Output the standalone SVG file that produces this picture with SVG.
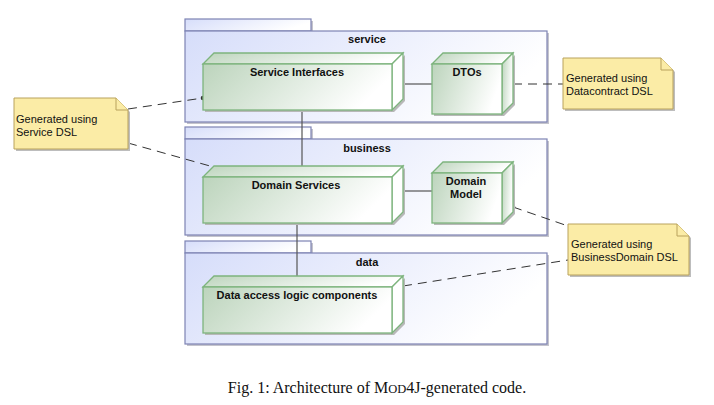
<svg xmlns="http://www.w3.org/2000/svg" width="714" height="405" viewBox="0 0 714 405">
<defs>
<linearGradient id="pkg" x1="0" y1="0" x2="1" y2="0.3">
<stop offset="0" stop-color="#d6ddfa"/>
<stop offset="1" stop-color="#ffffff"/>
</linearGradient>
<linearGradient id="nd" x1="0" y1="0" x2="1" y2="0.25">
<stop offset="0" stop-color="#bcd4bc"/>
<stop offset="1" stop-color="#ffffff"/>
</linearGradient>
<style>
.pkg{fill:url(#pkg);stroke:#7d83b3;stroke-width:1.2}
.psh{fill:#c4c4cc}
.nd{fill:url(#nd);stroke:#7db47d;stroke-width:1.3}
.ndside{fill:#ffffff;stroke:#7db47d;stroke-width:1.3}
.nsh{fill:#b8b8b8}
.note{fill:#fbeca6;stroke:#b9a25c;stroke-width:1}
.lbl{font-family:"Liberation Sans",Arial,sans-serif;font-size:11px;font-weight:bold;fill:#111;text-anchor:middle}
.nt{font-family:"Liberation Sans",Arial,sans-serif;font-size:11px;fill:#111}
.ln{stroke:#555;stroke-width:1.2;fill:none}
.dl{stroke:#333;stroke-width:1;fill:none;stroke-dasharray:9 6}
</style>
</defs>
<rect width="714" height="405" fill="#ffffff"/>

<!-- packages -->
<g id="pkg-service">
<rect class="psh" x="187" y="21" width="126" height="12"/>
<rect class="psh" x="187" y="33" width="362" height="91"/>
<rect class="pkg" x="185" y="19" width="126" height="12"/>
<rect class="pkg" x="185" y="31" width="362" height="91"/>
<text class="lbl" x="367" y="43">service</text>
</g>
<g id="pkg-business">
<rect class="psh" x="187" y="129" width="126" height="12"/>
<rect class="psh" x="187" y="141" width="362" height="96"/>
<rect class="pkg" x="185" y="127" width="126" height="12"/>
<rect class="pkg" x="185" y="139" width="362" height="96"/>
<text class="lbl" x="367" y="152">business</text>
</g>
<g id="pkg-data">
<rect class="psh" x="187" y="243" width="126" height="12"/>
<rect class="psh" x="187" y="255" width="362" height="91"/>
<rect class="pkg" x="185" y="241" width="126" height="12"/>
<rect class="pkg" x="185" y="253" width="362" height="91"/>
<text class="lbl" x="367" y="266">data</text>
</g>

<!-- connectors -->
<g id="connectors">
<line class="ln" x1="302" y1="110" x2="302" y2="166"/>
<line class="ln" x1="297" y1="223" x2="297" y2="276"/>
<line class="ln" x1="403" y1="84" x2="432" y2="84"/>
<line class="ln" x1="403" y1="191" x2="432" y2="191"/>
<line class="dl" x1="128" y1="109" x2="203" y2="98"/>
<circle cx="203" cy="98" r="2.3" fill="#333"/>
<line class="dl" x1="128" y1="143" x2="210" y2="166"/>
<line class="dl" x1="513" y1="84" x2="563" y2="84"/>
<line class="dl" x1="513" y1="207" x2="568" y2="226"/>
<circle cx="513" cy="207" r="2.3" fill="#333"/>
<line class="dl" x1="403" y1="286" x2="568" y2="260"/>
</g>

<!-- nodes -->
<g id="node-service-interfaces">
<polygon class="nsh" points="205,66 394,66 405,55 405,101 394,112 205,112"/>
<polygon class="nd" points="203,64 214,53 403,53 392,64"/>
<polygon class="ndside" points="392,64 403,53 403,99 392,110"/>
<rect class="nd" x="203" y="64" width="189" height="46"/>
<text class="lbl" x="297" y="76">Service Interfaces</text>
</g>
<g id="node-dtos">
<polygon class="nsh" points="434,66 504,66 515,55 515,105 504,116 434,116"/>
<polygon class="nd" points="432,64 443,53 513,53 502,64"/>
<polygon class="nd" points="502,64 513,53 513,103 502,114"/>
<rect class="nd" x="432" y="64" width="70" height="50"/>
<text class="lbl" x="467" y="76">DTOs</text>
</g>
<g id="node-domain-services">
<polygon class="nsh" points="205,179 394,179 405,168 405,214 394,225 205,225"/>
<polygon class="nd" points="203,177 214,166 403,166 392,177"/>
<polygon class="ndside" points="392,177 403,166 403,212 392,223"/>
<rect class="nd" x="203" y="177" width="189" height="46"/>
<text class="lbl" x="296" y="189">Domain Services</text>
</g>
<g id="node-domain-model">
<polygon class="nsh" points="434,175 504,175 515,164 515,214 504,225 434,225"/>
<polygon class="nd" points="432,173 443,162 513,162 502,173"/>
<polygon class="nd" points="502,173 513,162 513,212 502,223"/>
<rect class="nd" x="432" y="173" width="70" height="50"/>
<text class="lbl" x="466" y="185">Domain</text>
<text class="lbl" x="466" y="198">Model</text>
</g>
<g id="node-data-access">
<polygon class="nsh" points="205,289 394,289 405,278 405,324 394,335 205,335"/>
<polygon class="nd" points="203,287 214,276 403,276 392,287"/>
<polygon class="ndside" points="392,287 403,276 403,322 392,333"/>
<rect class="nd" x="203" y="287" width="189" height="46"/>
<text class="lbl" x="297" y="299">Data access logic components</text>
</g>

<!-- notes -->
<g id="note-service-dsl">
<polygon fill="#bdbdbd" points="16,100 118,100 130,112 130,151 16,151"/>
<polygon class="note" points="14,98 116,98 128,110 128,149 14,149"/>
<polyline class="note" points="116,98 116,110 128,110"/>
<text class="nt" x="16" y="123">Generated using</text>
<text class="nt" x="16" y="136">Service DSL</text>
</g>
<g id="note-datacontract-dsl">
<polygon fill="#bdbdbd" points="565,60 663,60 675,72 675,111 565,111"/>
<polygon class="note" points="563,58 661,58 673,70 673,109 563,109"/>
<polyline class="note" points="661,58 661,70 673,70"/>
<text class="nt" x="566" y="82">Generated using</text>
<text class="nt" x="566" y="95">Datacontract DSL</text>
</g>
<g id="note-businessdomain-dsl">
<polygon fill="#bdbdbd" points="570,226 679,226 691,238 691,277 570,277"/>
<polygon class="note" points="568,224 677,224 689,236 689,275 568,275"/>
<polyline class="note" points="677,224 677,236 689,236"/>
<text class="nt" x="571" y="248">Generated using</text>
<text class="nt" x="571" y="261">BusinessDomain DSL</text>
</g>

<text x="377" y="393" font-family="Liberation Serif,'Times New Roman',serif" font-size="16" fill="#111" text-anchor="middle">Fig. 1: Architecture of M<tspan font-size="12.5">OD</tspan>4J-generated code.</text>
</svg>
